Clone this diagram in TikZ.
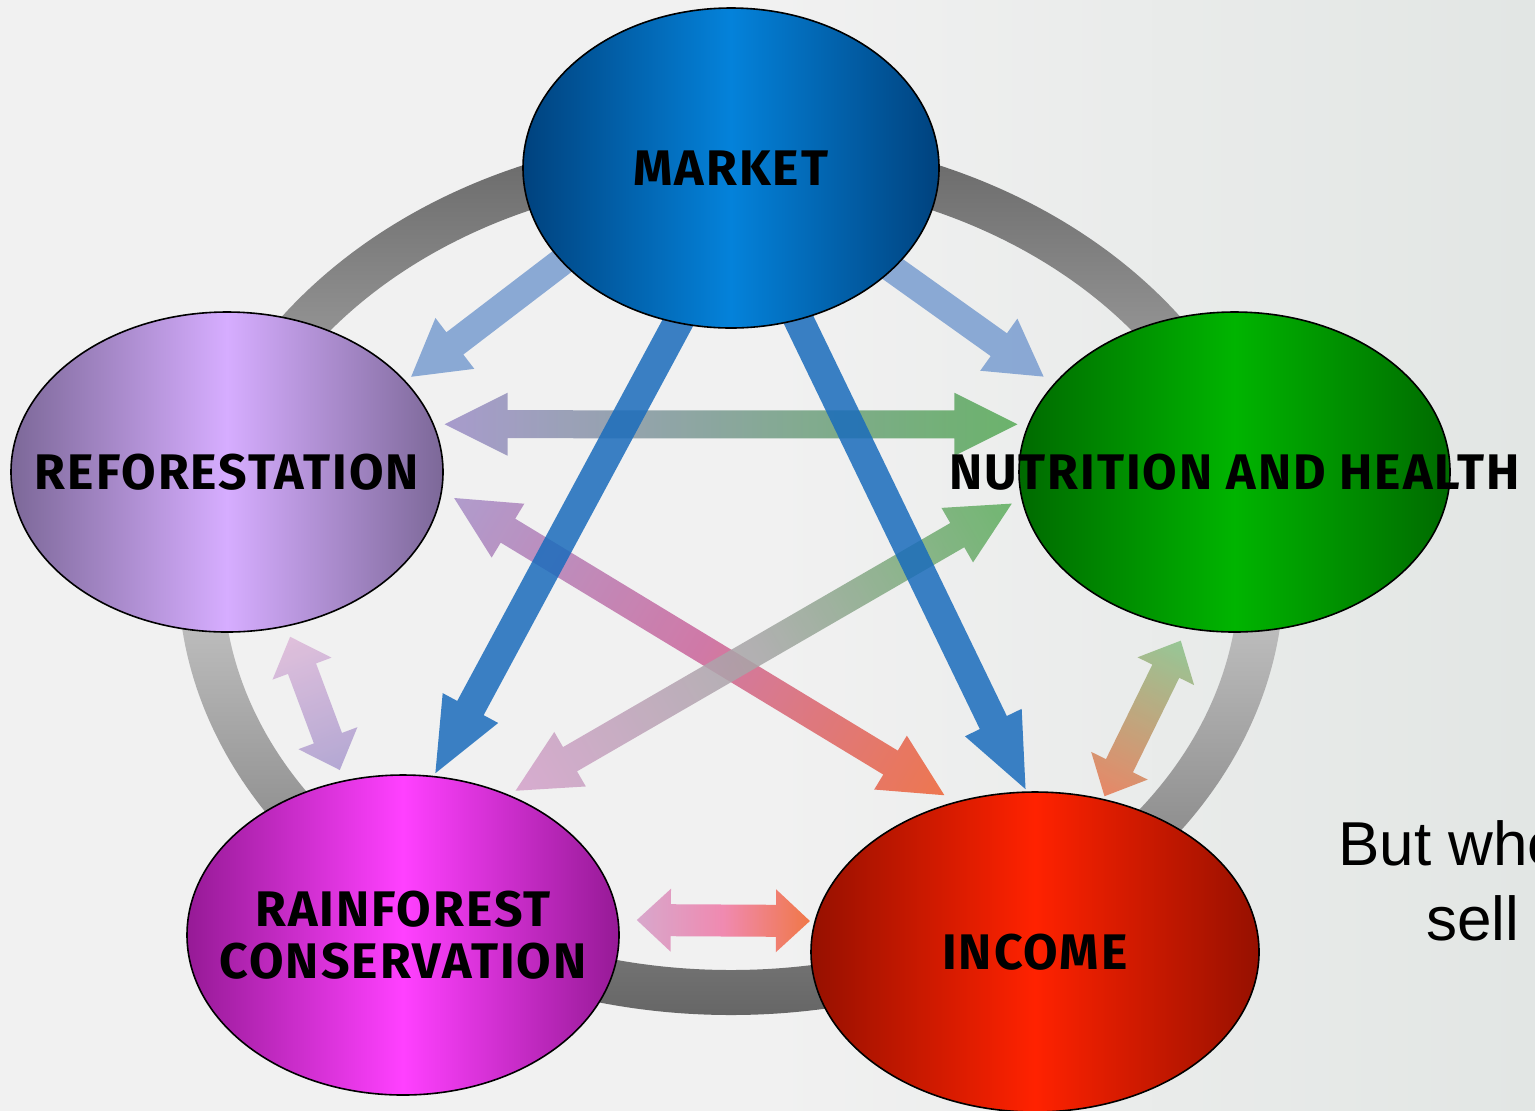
\documentclass[tikz,border=0pt]{standalone}
\usepackage{fontspec}
\usepackage{tikz}
\usetikzlibrary{shapes.geometric,calc}
\newfontfamily\tagfamily{Fira Sans}[LetterSpace=4]
\newfontfamily\notefamily{Liberation Sans}

\definecolor{paper}{HTML}{F1F1F1}
\definecolor{paperright}{HTML}{E2E6E4}
\definecolor{ringdark}{HTML}{666666}
\definecolor{ringlight}{HTML}{C8C8C8}
\definecolor{mkedge}{HTML}{00427E}
\definecolor{mkmid}{HTML}{0482DA}
\definecolor{rfedge}{HTML}{7C6898}
\definecolor{rfmid}{HTML}{D6ADFF}
\definecolor{nhedge}{HTML}{006A00}
\definecolor{nhmid}{HTML}{00B400}
\definecolor{rcedge}{HTML}{961A96}
\definecolor{rcmid}{HTML}{FF40FF}
\definecolor{inedge}{HTML}{961000}
\definecolor{inmid}{HTML}{FF2200}
\definecolor{feeddark}{HTML}{1A6CBC}
\definecolor{feedlight}{HTML}{799DD0}
\definecolor{lavA}{HTML}{9B8DC6}
\definecolor{greenA}{HTML}{55A955}
\definecolor{lavB}{HTML}{A58DC6}
\definecolor{pinkB}{HTML}{CA659B}
\definecolor{orangeB}{HTML}{EE6334}
\definecolor{pinkC}{HTML}{D4A0CA}
\definecolor{greyC}{HTML}{A5A5A5}
\definecolor{greenC}{HTML}{5CAE5C}
\definecolor{pinkD}{HTML}{DDB8D8}
\definecolor{lavD}{HTML}{A99BCF}
\definecolor{pinkE}{HTML}{D49BC6}
\definecolor{roseE}{HTML}{F078A5}
\definecolor{orangeE}{HTML}{F0632A}
\definecolor{greenF}{HTML}{88C188}
\definecolor{orangeF}{HTML}{E77650}

\pgfdeclarelayer{back}
\pgfdeclarelayer{links}
\pgfsetlayers{back,links,main}

\tikzset{
  topic/.style={
    ellipse,
    draw=black,
    line width=0.8pt,
    minimum width=216pt,
    minimum height=160pt,
    inner sep=0pt,
    font=\tagfamily\bfseries\fontsize{25}{26}\selectfont
  },
  glow/.style 2 args={left color=#1, right color=#1, middle color=#2},
  note/.style={
    anchor=base west,
    inner sep=0pt,
    font=\notefamily\fontsize{31}{37}\selectfont
  },
  flowpaint/.style={opacity=.85}
}

\pgfkeys{/flow/.is family, /flow,
  shaft/.initial=14pt, head/.initial=31.5pt, tip/.initial=31.5pt,
  start/.initial=0pt, end/.initial=0pt, twoway/.initial=1,
  feed/.style={twoway=0, start=-30pt},
  stubby/.style={shaft=15pt, tip=17pt}}

\newcommand\flowarrow[4][]{%
  \path let \p1=($(#3)-(#2)$) in \pgfextra{%
    \pgfmathparse{atan2(\y1,\x1)}\xdef\flowang{\pgfmathresult}%
    \pgfmathparse{veclen(\x1,\y1)}\xdef\flowlen{\pgfmathresult}};
  \begin{scope}[transform canvas={shift={(#2)},rotate=\flowang}]
    \pgfkeys{/flow,#1}%
    \pgfmathsetmacro\flowa{\pgfkeysvalueof{/flow/start}}%
    \pgfmathsetmacro\flowb{\flowlen-\pgfkeysvalueof{/flow/end}}%
    \pgfmathsetmacro\flowc{\flowa+\pgfkeysvalueof{/flow/tip}}%
    \pgfmathsetmacro\flowd{\flowb-\pgfkeysvalueof{/flow/tip}}%
    \pgfmathsetmacro\floww{\pgfkeysvalueof{/flow/shaft}/2}%
    \pgfmathsetmacro\flowh{\pgfkeysvalueof{/flow/head}/2}%
    \ifnum\pgfkeysvalueof{/flow/twoway}=1
      \path[flowpaint,#4] (\flowa pt,0pt) -- (\flowc pt,\flowh pt) -- (\flowc pt,\floww pt)
        -- (\flowd pt,\floww pt) -- (\flowd pt,\flowh pt) -- (\flowb pt,0pt)
        -- (\flowd pt,-\flowh pt) -- (\flowd pt,-\floww pt) -- (\flowc pt,-\floww pt)
        -- (\flowc pt,-\flowh pt) -- cycle;
    \else
      \path[flowpaint,#4] (\flowa pt,-\floww pt) -- (\flowa pt,\floww pt) -- (\flowd pt,\floww pt)
        -- (\flowd pt,\flowh pt) -- (\flowb pt,0pt) -- (\flowd pt,-\flowh pt)
        -- (\flowd pt,-\floww pt) -- cycle;
    \fi
  \end{scope}}

\begin{document}
\begin{tikzpicture}[x=0.5pt,y=-0.5pt]
  \useasboundingbox (0,0) rectangle (1535,1110);
  \clip (0,0) rectangle (1535,1110);
  \node[topic, glow={mkedge}{mkmid}, minimum width=208pt] (market) at (731,168) {\makebox[0pt]{MARKET}};
  \node[topic, glow={rfedge}{rfmid}] (refo) at (227,472) {\makebox[0pt]{REFORESTATION}};
  \node[topic, glow={nhedge}{nhmid}, minimum width=215.5pt] (nutr) at (1234.5,472) {\makebox[0pt]{NUTRITION AND HEALTH}};
  \node[topic, glow={rcedge}{rcmid}] (rain) at (403,935) {\makebox[0pt]{\begin{tabular}{@{}c@{}}RAINFOREST\rule{0pt}{25pt}\\CONSERVATION\end{tabular}}};
  \node[topic, glow={inedge}{inmid}, minimum width=224pt] (income) at (1035,952) {\makebox[0pt]{INCOME}};
  \node[note] (butwhe) at (1338,865) {But whe};
  \node[note] (sell) at (1426,940) {sell};
  \begin{pgfonlayer}{back}
    \shade[left color=paper, right color=paperright, middle color=paper] (0,0) rectangle (1535,1110);
    \shade[top color=ringdark, bottom color=ringdark, middle color=ringlight, even odd rule]
      (731,574) ellipse [x radius=276.5pt, y radius=220.5pt]
      (731,574) ellipse [x radius=254pt, y radius=198pt];
  \end{pgfonlayer}
  \begin{pgfonlayer}{links}
    \flowarrow[start=5.35pt, end=5.25pt]{refo.13}{nutr.167}{left color=lavA, right color=greenA}
    \flowarrow[start=6.9pt, end=6.25pt]{refo.355}{income.118}{left color=lavB, right color=orangeB, middle color=pinkB}
    \flowarrow[start=3.9pt, end=5.35pt]{rain.53}{nutr.187}{left color=pinkC, right color=greenC, middle color=greyC}
    \flowarrow[stubby, start=5.4pt, end=5.5pt]{refo.291}{rain.111}{left color=pinkD, right color=lavD}
    \flowarrow[stubby, shaft=16pt, start=9pt, end=2.25pt]{rain.4}{income.172}{left color=pinkE, right color=orangeE, middle color=roseE}
    \flowarrow[stubby, start=6.6pt, end=1.3pt]{nutr.253}{income.66}{left color=greenF, right color=orangeF}
    \flowarrow[feed, head=32pt, tip=27.5pt, end=3.35pt]{market.209}{refo.27}{fill=feedlight}
    \flowarrow[feed, head=32pt, tip=27.5pt, end=6pt]{market.328}{nutr.154}{fill=feedlight}
    \flowarrow[feed, shaft=15pt, tip=37pt, end=1.5pt]{market.251}{rain.79}{fill=feeddark}
    \flowarrow[feed, shaft=15pt, tip=37pt, end=1.2pt]{market.294}{income.93}{fill=feeddark}
  \end{pgfonlayer}
\end{tikzpicture}
\end{document}
